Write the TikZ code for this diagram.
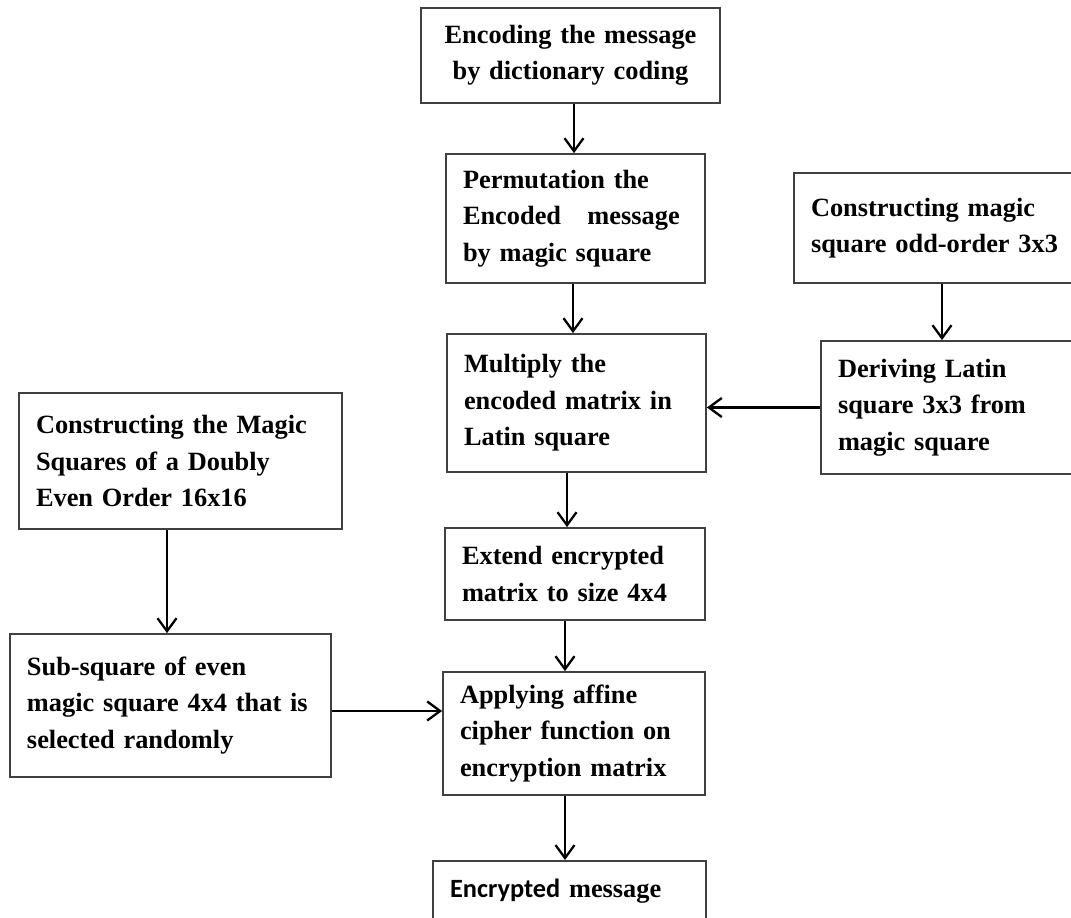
\documentclass[tikz,border=0pt]{standalone}
\usepackage{fontspec}
\setmainfont{Liberation Serif}
\newfontfamily\calibrifont{Carlito}
\usetikzlibrary{arrows.meta}

\begin{document}
\begin{tikzpicture}[font=\bfseries\fontsize{15}{20.8}\selectfont,
    box/.style={draw=black!75, line width=1pt, align=left, inner xsep=0.34cm, inner ysep=0pt},
    arr/.style={line width=1.3pt, -{Straight Barb[length=0.26cm,width=0.38cm,line width=1.3pt]}}]
    \useasboundingbox (0,0) rectangle (21.42,18.36);

    % middle column
    \node[box, align=center, text width=5.30cm, minimum height=1.90cm] (enc) at (11.41,17.25)
      {Encoding the message\\ by dictionary coding};
    \node[box, text width=4.50cm, minimum height=2.58cm] (perm) at (11.51,13.99)
      {Permutation the\\ Encoded\ \ \ message\\ by magic square};
    \node[box, text width=4.50cm, minimum height=2.76cm] (mult) at (11.53,10.30)
      {Multiply the\\ encoded matrix in\\ Latin square};
    \node[box, text width=4.52cm, minimum height=1.84cm] (ext) at (11.50,6.88)
      {Extend encrypted\\ matrix to size 4x4};
    \node[box, text width=4.56cm, minimum height=2.46cm] (aff) at (11.48,3.69)
      {Applying affine\\ cipher function on\\ encryption matrix};
    \node[box, anchor=north, text width=4.78cm, inner ysep=0.36cm, text depth=1.5cm] (msg) at (11.39,1.16)
      {{\calibrifont Encrypted} message};

    % right column
    \node[box, text width=5.24cm, minimum height=2.20cm] (odd) at (18.84,13.80)
      {Constructing magic\\ square odd-order 3x3};
    \node[box, text width=4.70cm, minimum height=2.66cm] (latin) at (19.11,10.21)
      {Deriving Latin\\ square 3x3 from\\ magic square};

    % left column
    \node[box, text width=5.78cm, minimum height=2.72cm] (even) at (3.61,9.14)
      {Constructing the Magic\\ Squares of a Doubly\\ Even Order 16x16};
    \node[box, text width=5.74cm, minimum height=2.86cm] (sub) at (3.41,4.25)
      {Sub-square of even\\ magic square 4x4 that is\\ selected randomly};

    \draw[arr] ([xshift=0.07cm]enc.south) -- ([xshift=0.07cm]enc.south |- perm.north);
    \draw[arr] ([xshift=-0.05cm]perm.south) -- ([xshift=-0.05cm]perm.south |- mult.north);
    \draw[arr] (odd.south) -- (odd.south |- latin.north);
    \draw[arr] (latin.west) -- (latin.west -| mult.east);
    \draw[arr] ([xshift=-0.19cm]mult.south) -- ([xshift=-0.19cm]mult.south |- ext.north);
    \draw[arr] ([xshift=-0.07cm]sub.north |- even.south) -- ([xshift=-0.07cm]sub.north);
    \draw[arr] ([xshift=-0.2cm]ext.south) -- ([xshift=-0.2cm]ext.south |- aff.north);
    \draw[arr] ([yshift=-0.11cm]sub.east) -- ([yshift=-0.11cm]sub.east -| aff.west);
    \draw[arr] ([xshift=-0.18cm]aff.south) -- ([xshift=-0.18cm]aff.south |- msg.north);
\end{tikzpicture}
\end{document}
